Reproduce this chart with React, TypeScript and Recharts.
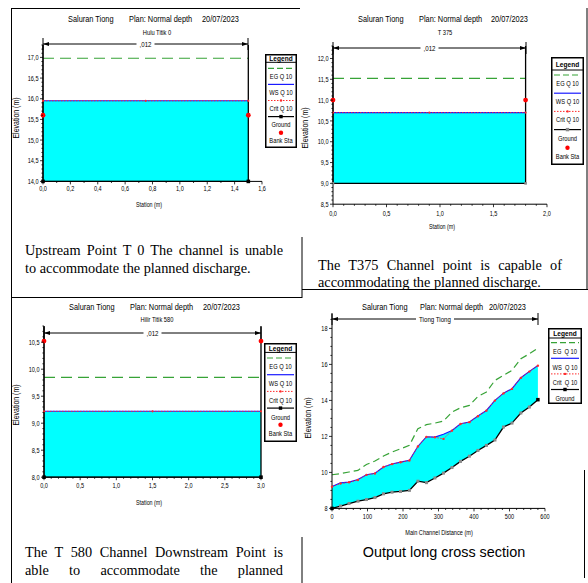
import React from 'react';
import { Area, ComposedChart, Line, XAxis, YAxis } from 'recharts';

const SERIF = "'Liberation Serif', 'Times New Roman', serif";
const SANS = "'Liberation Sans', Arial, sans-serif";
const NARROW_X = 0.82; // HEC-RAS uses Arial Narrow; squeeze Liberation Sans to match

const WATER = '#00ffff';
const EG_GREEN = '#37a337';
const WS_BLUE = '#1a1aff';
const CRIT_RED = '#ff2a2a';

// Hulu Titik 0
const t0GroundSta = [0, 0, 1.5, 1.5];
const t0GroundElev = [17.3, 14.0, 14.0, 17.3];
const t0WsSta = [0, 0.75, 1.5];
const t0Floor = [14.0, 14.0, 14.0];
const t0Ws = [15.95, 15.95, 15.95];
const t0Crit = [15.95, 15.95, 15.95];
const t0Eg = [16.98, 16.98, 16.98];
const t0BankSta = [0, 1.5];
const t0BankElev = [15.6, 15.6];
const t0XTicks = [0, 0.2, 0.4, 0.6, 0.8, 1.0, 1.2, 1.4, 1.6];
const t0YTicks = [14.0, 14.5, 15.0, 15.5, 16.0, 16.5, 17.0];

// T 375
const t375GroundSta = [0, 0, 1.8, 1.8];
const t375GroundElev = [12.3, 9.0, 9.0, 12.3];
const t375WsSta = [0, 0.9, 1.8];
const t375Floor = [9.0, 9.0, 9.0];
const t375Ws = [10.7, 10.7, 10.7];
const t375Crit = [10.7, 10.7, 10.7];
const t375Eg = [11.52, 11.52, 11.52];
const t375BankSta = [0, 1.8];
const t375BankElev = [11.0, 11.0];
const t375XTicks = [0, 0.5, 1.0, 1.5, 2.0];
const t375YTicks = [8.5, 9.0, 9.5, 10.0, 10.5, 11.0, 11.5, 12.0];

// Hilir Titik 580
const t580GroundSta = [0, 0, 3.0, 3.0];
const t580GroundElev = [10.8, 8.0, 8.0, 10.8];
const t580WsSta = [0, 1.5, 3.0];
const t580Floor = [8.0, 8.0, 8.0];
const t580Ws = [9.22, 9.22, 9.22];
const t580Crit = [9.22, 9.22, 9.22];
const t580Eg = [9.85, 9.85, 9.85];
const t580BankSta = [0, 3.0];
const t580BankElev = [10.52, 10.52];
const t580XTicks = [0, 0.5, 1.0, 1.5, 2.0, 2.5, 3.0];
const t580YTicks = [8.0, 8.5, 9.0, 9.5, 10.0, 10.5];

// long profile, Tiong Tiong
const profStation = [0, 24, 48, 73, 97, 121, 145, 169, 193, 218, 242, 266, 290, 314, 338, 362, 387, 411, 435, 459, 483, 507, 532, 556, 580];
const profGround = [8.0, 8.13, 8.27, 8.4, 8.49, 8.6, 8.81, 8.9, 8.94, 9.0, 9.51, 9.43, 9.69, 9.96, 10.27, 10.61, 10.9, 11.22, 11.5, 11.8, 12.52, 12.74, 13.3, 13.63, 14.04];
const profWs = [9.22, 9.42, 9.46, 9.6, 9.87, 9.95, 10.3, 10.47, 10.57, 10.67, 11.45, 11.98, 11.96, 12.12, 12.33, 12.7, 12.8, 13.13, 13.44, 14.0, 14.4, 14.65, 15.26, 15.61, 15.94];
const profCrit = [9.2, 9.38, 9.45, 9.58, 9.86, 9.94, 10.3, 10.46, 10.56, 10.66, 11.44, 11.97, 11.95, 11.86, 12.32, 12.69, 12.79, 13.12, 13.43, 13.99, 14.39, 14.64, 15.25, 15.6, 15.93];
const profEg = [9.87, 9.93, 10.02, 10.11, 10.44, 10.63, 10.91, 11.13, 11.31, 11.5, 12.43, 12.65, 12.74, 12.85, 13.35, 13.59, 13.72, 14.22, 14.46, 15.11, 15.39, 15.67, 16.31, 16.59, 16.91];
const profXTicks = [0, 100, 200, 300, 400, 500, 600];
const profYTicks = [8, 10, 12, 14, 16, 18];

const xsLegend = ['EG Q 10', 'WS Q 10', 'Crit Q 10', 'Ground', 'Bank Sta'];
const profLegend = ['EG  Q 10', 'WS  Q 10', 'Crit  Q 10', 'Ground'];

type Pt = { x: number; y: number };
type Band = { x: number; range: [number, number] };

const toPts = (xs: number[], ys: number[]): Pt[] => xs.map((x, i) => ({ x, y: ys[i] }));
const toBand = (xs: number[], lo: number[], hi: number[]): Band[] =>
  xs.map((x, i) => ({ x, range: [lo[i], hi[i]] as [number, number] }));
const comma = (v: number) => v.toFixed(1).replace('.', ',');
const plain = (v: number) => String(Math.round(v));

function withMinor(domain: [number, number], majors: number[], step: number) {
  const out = [...majors];
  const n = Math.round((domain[1] - domain[0]) / step);
  for (let i = 0; i <= n; i++) {
    const v = Math.round((domain[0] + i * step) * 1000) / 1000;
    if (v <= domain[1] + 1e-9 && !majors.some((m) => Math.abs(m - v) < 1e-6)) out.push(v);
  }
  return out.sort((a, b) => a - b);
}

// narrow svg text
function NText({
  x,
  y,
  size,
  anchor = 'middle',
  bold = false,
  children,
}: {
  x: number;
  y: number;
  size: number;
  anchor?: 'start' | 'middle' | 'end';
  bold?: boolean;
  children: React.ReactNode;
}) {
  return (
    <text
      transform={`translate(${x} ${y}) scale(${NARROW_X} 1)`}
      textAnchor={anchor}
      dominantBaseline="central"
      fontSize={size}
      fontWeight={bold ? 'bold' : 'normal'}
      fontFamily={SANS}
      fill="#000"
      style={{ whiteSpace: 'pre' }}
    >
      {children}
    </text>
  );
}

function Tick(props: any) {
  const { x, y, payload, majors, fmt, side, gap } = props;
  const v = payload.value;
  const major = majors.some((m: number) => Math.abs(m - v) < 1e-6);
  const len = major ? 3 : 1.6;
  if (side === 'x') {
    return (
      <g>
        <line x1={x} y1={y} x2={x} y2={y + len} stroke="#000" strokeWidth={0.8} />
        {major && <NText x={x} y={y + gap} size={6.8}>{fmt(v)}</NText>}
      </g>
    );
  }
  return (
    <g>
      <line x1={x - len} y1={y} x2={x} y2={y} stroke="#000" strokeWidth={0.8} />
      {major && <NText x={x - gap} y={y} size={6.8} anchor="end">{fmt(v)}</NText>}
    </g>
  );
}

const sq = (color: string, s: number) => (p: any) => (
  <rect key={`g${p.index}`} x={p.cx - s / 2} y={p.cy - s / 2} width={s} height={s} fill={color} />
);

// squares on the two channel-bottom corners only
const cornerDots = (color: string, s: number) => (p: any) =>
  p.index === 1 || p.index === 2 ? sq(color, s)(p) : <g key={`g${p.index}`} />;

const profDots = (p: any) =>
  p.index === 0 || p.index === profStation.length - 1 ? sq('#000', 3.5)(p) : sq('#8a8a8a', 3)(p);

interface PlotProps {
  box: [number, number, number, number];
  xDomain: [number, number];
  yDomain: [number, number];
  xTicks: number[];
  yTicks: number[];
  xStep: number;
  yStep: number;
  fmt: (v: number) => string;
  xGap: number;
  water: Band[];
  eg: Pt[];
  ws: Pt[];
  crit: Pt[];
  ground: Pt[];
  bank?: Pt[];
  egDash: string;
  groundDot: (p: any) => React.ReactElement;
  critR: number;
}

const ML = 40;
const MT = 12;
const MR = 14;
const MB = 20;

function Plot(p: PlotProps) {
  const [l, t, w, h] = p.box;
  return (
    <div style={{ position: 'absolute', left: l - ML, top: t - MT }}>
      <ComposedChart width={w + ML + MR} height={h + MT + MB} margin={{ top: MT, right: MR, bottom: 0, left: 0 }}>
        <XAxis
          type="number"
          dataKey="x"
          domain={p.xDomain}
          ticks={withMinor(p.xDomain, p.xTicks, p.xStep)}
          interval={0}
          height={MB}
          tickSize={0}
          tickMargin={0}
          tickLine={false}
          axisLine={{ stroke: '#000', strokeWidth: 1 }}
          tick={<Tick side="x" majors={p.xTicks} fmt={p.fmt} gap={p.xGap} />}
        />
        <YAxis
          type="number"
          domain={p.yDomain}
          ticks={withMinor(p.yDomain, p.yTicks, p.yStep)}
          interval={0}
          width={ML}
          tickSize={0}
          tickMargin={0}
          tickLine={false}
          axisLine={{ stroke: '#000', strokeWidth: 1 }}
          tick={<Tick side="y" majors={p.yTicks} fmt={p.fmt} gap={4.5} />}
        />
        <Area data={p.water} dataKey="range" type="linear" stroke="none" fill={WATER} fillOpacity={1} isAnimationActive={false} />
        <Line data={p.eg} dataKey="y" type="linear" stroke={EG_GREEN} strokeWidth={1.2} strokeDasharray={p.egDash} dot={false} isAnimationActive={false} />
        <Line data={p.ws} dataKey="y" type="linear" stroke={WS_BLUE} strokeWidth={1.1} dot={false} isAnimationActive={false} />
        <Line
          data={p.crit}
          dataKey="y"
          type="linear"
          stroke={CRIT_RED}
          strokeWidth={0.9}
          strokeDasharray="1.5 1.5"
          dot={{ r: p.critR, fill: CRIT_RED, stroke: 'none' }}
          isAnimationActive={false}
        />
        <Line data={p.ground} dataKey="y" type="linear" stroke="#000" strokeWidth={1.3} dot={p.groundDot} isAnimationActive={false} />
        {p.bank && (
          <Line data={p.bank} dataKey="y" type="linear" stroke="none" dot={{ r: 2.4, fill: '#ff0000', stroke: 'none' }} isAnimationActive={false} />
        )}
      </ComposedChart>
    </div>
  );
}

interface LegendProps {
  left: number;
  top: number;
  width: number;
  height: number;
  divider: number;
  first: number;
  pitch: number;
  textOff: number;
  labels: string[];
  groundColor: string;
}

function LegendBox(p: LegendProps) {
  const x1 = 3;
  const x2 = p.width - 3;
  const mid = p.width / 2;
  return (
    <svg style={{ position: 'absolute', left: p.left, top: p.top }} width={p.width} height={p.height}>
      <rect x={0.75} y={0.75} width={p.width - 1.5} height={p.height - 1.5} fill="#fff" stroke="#000" strokeWidth={1.5} />
      <NText x={mid} y={p.divider / 2 + 0.5} size={8} bold>Legend</NText>
      <line x1={0} x2={p.width} y1={p.divider} y2={p.divider} stroke="#000" strokeWidth={1} />
      {p.labels.map((lab, i) => {
        const sy = p.first + i * p.pitch;
        let sample: React.ReactNode = null;
        if (i === 0) sample = <line x1={x1} x2={x2} y1={sy} y2={sy} stroke={EG_GREEN} strokeWidth={1.2} strokeDasharray="6 3" />;
        if (i === 1) sample = <line x1={x1} x2={x2} y1={sy} y2={sy} stroke={WS_BLUE} strokeWidth={1.2} />;
        if (i === 2)
          sample = (
            <g>
              <line x1={x1} x2={x2} y1={sy} y2={sy} stroke={CRIT_RED} strokeWidth={1} strokeDasharray="1.5 1.5" />
              <circle cx={mid} cy={sy} r={1.2} fill={CRIT_RED} />
            </g>
          );
        if (i === 3)
          sample = (
            <g>
              <line x1={x1} x2={x2} y1={sy} y2={sy} stroke="#000" strokeWidth={1.2} />
              <rect x={mid - 1.7} y={sy - 1.7} width={3.4} height={3.4} fill={p.groundColor} />
            </g>
          );
        if (i === 4) sample = <circle cx={mid} cy={sy} r={2.2} fill="#ff0000" />;
        return (
          <g key={lab}>
            {sample}
            <NText x={mid} y={sy + p.textOff} size={7}>{lab}</NText>
          </g>
        );
      })}
    </svg>
  );
}

function Bracket({ x1, x2, y, label, lw }: { x1: number; x2: number; y: number; label: string; lw: number }) {
  const cx = (x1 + x2) / 2;
  return (
    <g>
      <line x1={x1} x2={x2} y1={y} y2={y} stroke="#000" strokeWidth={1} />
      <line x1={x1} x2={x1} y1={y - 6} y2={y + 6} stroke="#000" strokeWidth={1} />
      <line x1={x2} x2={x2} y1={y - 6} y2={y + 6} stroke="#000" strokeWidth={1} />
      <polygon points={`${x1},${y} ${x1 + 6},${y - 2} ${x1 + 6},${y + 2}`} fill="#000" />
      <polygon points={`${x2},${y} ${x2 - 6},${y - 2} ${x2 - 6},${y + 2}`} fill="#000" />
      <rect x={cx - lw / 2} y={y - 4} width={lw} height={8} fill="#fff" />
      <NText x={cx} y={y + 0.5} size={7.5}>{label}</NText>
    </g>
  );
}

function Txt({
  x,
  y,
  size,
  children,
  family = SANS,
  narrow = true,
  rotate = false,
  anchor = 'middle',
}: {
  x: number;
  y: number;
  size: number;
  children: React.ReactNode;
  family?: string;
  narrow?: boolean;
  rotate?: boolean;
  anchor?: 'middle' | 'start';
}) {
  const tx = anchor === 'middle' ? '-50%' : '0';
  const sx = narrow ? ` scaleX(${NARROW_X})` : '';
  return (
    <div
      style={{
        position: 'absolute',
        left: x,
        top: y,
        transform: `translate(${tx}, -50%)${rotate ? ' rotate(-90deg)' : ''}${sx}`,
        transformOrigin: anchor === 'start' ? 'left center' : 'center',
        fontFamily: family,
        fontSize: size,
        lineHeight: 1,
        whiteSpace: 'pre',
        color: '#000',
      }}
    >
      {children}
    </div>
  );
}

function Caption({ x, y, w, text, justify }: { x: number; y: number; w: number; text: string; justify: boolean }) {
  return (
    <div
      style={{
        position: 'absolute',
        left: x,
        top: y - 9,
        width: w,
        height: 18,
        lineHeight: '18px',
        fontFamily: SERIF,
        fontSize: 14.3,
        color: '#000',
        textAlign: justify ? 'justify' : 'left',
        textAlignLast: justify ? 'justify' : 'left',
        whiteSpace: 'nowrap',
      }}
    >
      {text}
    </div>
  );
}

function Title({ y, xs }: { y: number; xs: [number, number, number] }) {
  return (
    <>
      <Txt x={xs[0]} y={y} size={9} anchor="start">Saluran Tiong</Txt>
      <Txt x={xs[1]} y={y} size={9} anchor="start">Plan: Normal depth</Txt>
      <Txt x={xs[2]} y={y} size={9} anchor="start">20/07/2023</Txt>
    </>
  );
}

export default function App() {
  return (
    <div style={{ position: 'absolute', left: 0, top: 0, width: 588, height: 583, background: '#fff', overflow: 'hidden' }}>
      <svg style={{ position: 'absolute', left: 0, top: 0 }} width={588} height={583}>
        <g stroke="#000" strokeWidth={1}>
          <line x1={11} y1={8.5} x2={300} y2={8.5} />
          <line x1={11.5} y1={8} x2={11.5} y2={583} />
          <line x1={587} y1={8} x2={587} y2={290} />
          <line x1={11} y1={297.5} x2={302} y2={297.5} />
          <line x1={302} y1={237} x2={302} y2={298} />
          <line x1={302} y1={289.5} x2={588} y2={289.5} />
          <line x1={302} y1={537} x2={302} y2={583} />
          <line x1={584.5} y1={470} x2={584.5} y2={578} />
        </g>
        <Bracket x1={43} x2={248} y={44} label=",012" lw={18} />
        <Bracket x1={333} x2={526} y={48} label=",012" lw={18} />
        <Bracket x1={44} x2={261} y={333} label=",012" lw={18} />
        <Bracket x1={332} x2={538} y={319} label="Tiong Tiong" lw={38} />
      </svg>

      <Plot
        box={[43, 44.6, 219, 136.4]}
        xDomain={[0, 1.6]}
        yDomain={[14, 17.3]}
        xTicks={t0XTicks}
        yTicks={t0YTicks}
        xStep={0.1}
        yStep={0.1}
        fmt={comma}
        xGap={7}
        water={toBand(t0WsSta, t0Floor, t0Ws)}
        eg={toPts(t0WsSta, t0Eg)}
        ws={toPts(t0WsSta, t0Ws)}
        crit={toPts(t0WsSta, t0Crit)}
        ground={toPts(t0GroundSta, t0GroundElev)}
        bank={toPts(t0BankSta, t0BankElev)}
        egDash="11 6"
        groundDot={cornerDots('#000', 3.6)}
        critR={1.1}
      />
      <Plot
        box={[333, 45.8, 214, 158.2]}
        xDomain={[0, 2.0]}
        yDomain={[8.5, 12.3]}
        xTicks={t375XTicks}
        yTicks={t375YTicks}
        xStep={0.1}
        yStep={0.1}
        fmt={comma}
        xGap={9}
        water={toBand(t375WsSta, t375Floor, t375Ws)}
        eg={toPts(t375WsSta, t375Eg)}
        ws={toPts(t375WsSta, t375Ws)}
        crit={toPts(t375WsSta, t375Crit)}
        ground={toPts(t375GroundSta, t375GroundElev)}
        bank={toPts(t375BankSta, t375BankElev)}
        egDash="11 6"
        groundDot={cornerDots('#8a8a8a', 2.6)}
        critR={1.1}
      />
      <Plot
        box={[44, 326.1, 217, 151.2]}
        xDomain={[0, 3.0]}
        yDomain={[8, 10.8]}
        xTicks={t580XTicks}
        yTicks={t580YTicks}
        xStep={0.1}
        yStep={0.1}
        fmt={comma}
        xGap={8}
        water={toBand(t580WsSta, t580Floor, t580Ws)}
        eg={toPts(t580WsSta, t580Eg)}
        ws={toPts(t580WsSta, t580Ws)}
        crit={toPts(t580WsSta, t580Crit)}
        ground={toPts(t580GroundSta, t580GroundElev)}
        bank={toPts(t580BankSta, t580BankElev)}
        egDash="11 6"
        groundDot={cornerDots('#000', 3.6)}
        critR={1.1}
      />
      <Plot
        box={[332, 313.6, 213, 194.4]}
        xDomain={[0, 600]}
        yDomain={[8, 18.8]}
        xTicks={profXTicks}
        yTicks={profYTicks}
        xStep={20}
        yStep={0.5}
        fmt={plain}
        xGap={8}
        water={toBand(profStation, profGround, profWs)}
        eg={toPts(profStation, profEg)}
        ws={toPts(profStation, profWs)}
        crit={toPts(profStation, profCrit)}
        ground={toPts(profStation, profGround)}
        egDash="7 4"
        groundDot={profDots}
        critR={1.2}
      />

      <LegendBox left={265} top={54} width={32} height={94} divider={8.3} first={14.3} pitch={16.1} textOff={7.7} labels={xsLegend} groundColor="#000" />
      <LegendBox left={551} top={57} width={33} height={108} divider={13} first={18} pitch={18.2} textOff={8.3} labels={xsLegend} groundColor="#8a8a8a" />
      <LegendBox left={264} top={343} width={33} height={99} divider={9.4} first={15} pitch={16.7} textOff={8.7} labels={xsLegend} groundColor="#000" />
      <LegendBox left={548} top={328} width={34} height={76} divider={10} first={14.7} pitch={15.6} textOff={8.7} labels={profLegend} groundColor="#000" />

      <Title y={19} xs={[68, 129, 202]} />
      <Title y={19} xs={[358, 419, 491]} />
      <Title y={307} xs={[69, 130, 203]} />
      <Title y={307} xs={[362, 420, 489]} />

      <Txt x={157} y={32} size={7}>Hulu Titik 0</Txt>
      <Txt x={445} y={32} size={7}>T 375</Txt>
      <Txt x={157} y={319} size={7}>Hilir Titik 580</Txt>

      <Txt x={149} y={205} size={6.5}>Station (m)</Txt>
      <Txt x={442} y={227} size={6.5}>Station (m)</Txt>
      <Txt x={149} y={503} size={6.5}>Station (m)</Txt>
      <Txt x={439} y={533} size={6.8}>Main Channel Distance (m)</Txt>

      <Txt x={16} y={118} size={8.5} rotate>Elevation (m)</Txt>
      <Txt x={305} y={128} size={8.5} rotate>Elevation (m)</Txt>
      <Txt x={16} y={405} size={8.5} rotate>Elevation (m)</Txt>
      <Txt x={308} y={418} size={8.5} rotate>Elevation (m)</Txt>

      <Caption x={25} y={250} w={258} text="Upstream Point T 0 The channel is unable" justify />
      <Caption x={25} y={268} w={258} text="to accommodate the planned discharge." justify={false} />
      <Caption x={318} y={265} w={244} text="The T375 Channel point is capable of" justify />
      <Caption x={318} y={282} w={244} text="accommodating the planned discharge." justify={false} />
      <Caption x={25} y={552} w={258} text="The T 580 Channel Downstream Point is" justify />
      <Caption x={25} y={570} w={258} text="able to accommodate the planned" justify />
      <Txt x={444} y={552} size={14.4} family={SANS} narrow={false}>Output long cross section</Txt>
    </div>
  );
}
